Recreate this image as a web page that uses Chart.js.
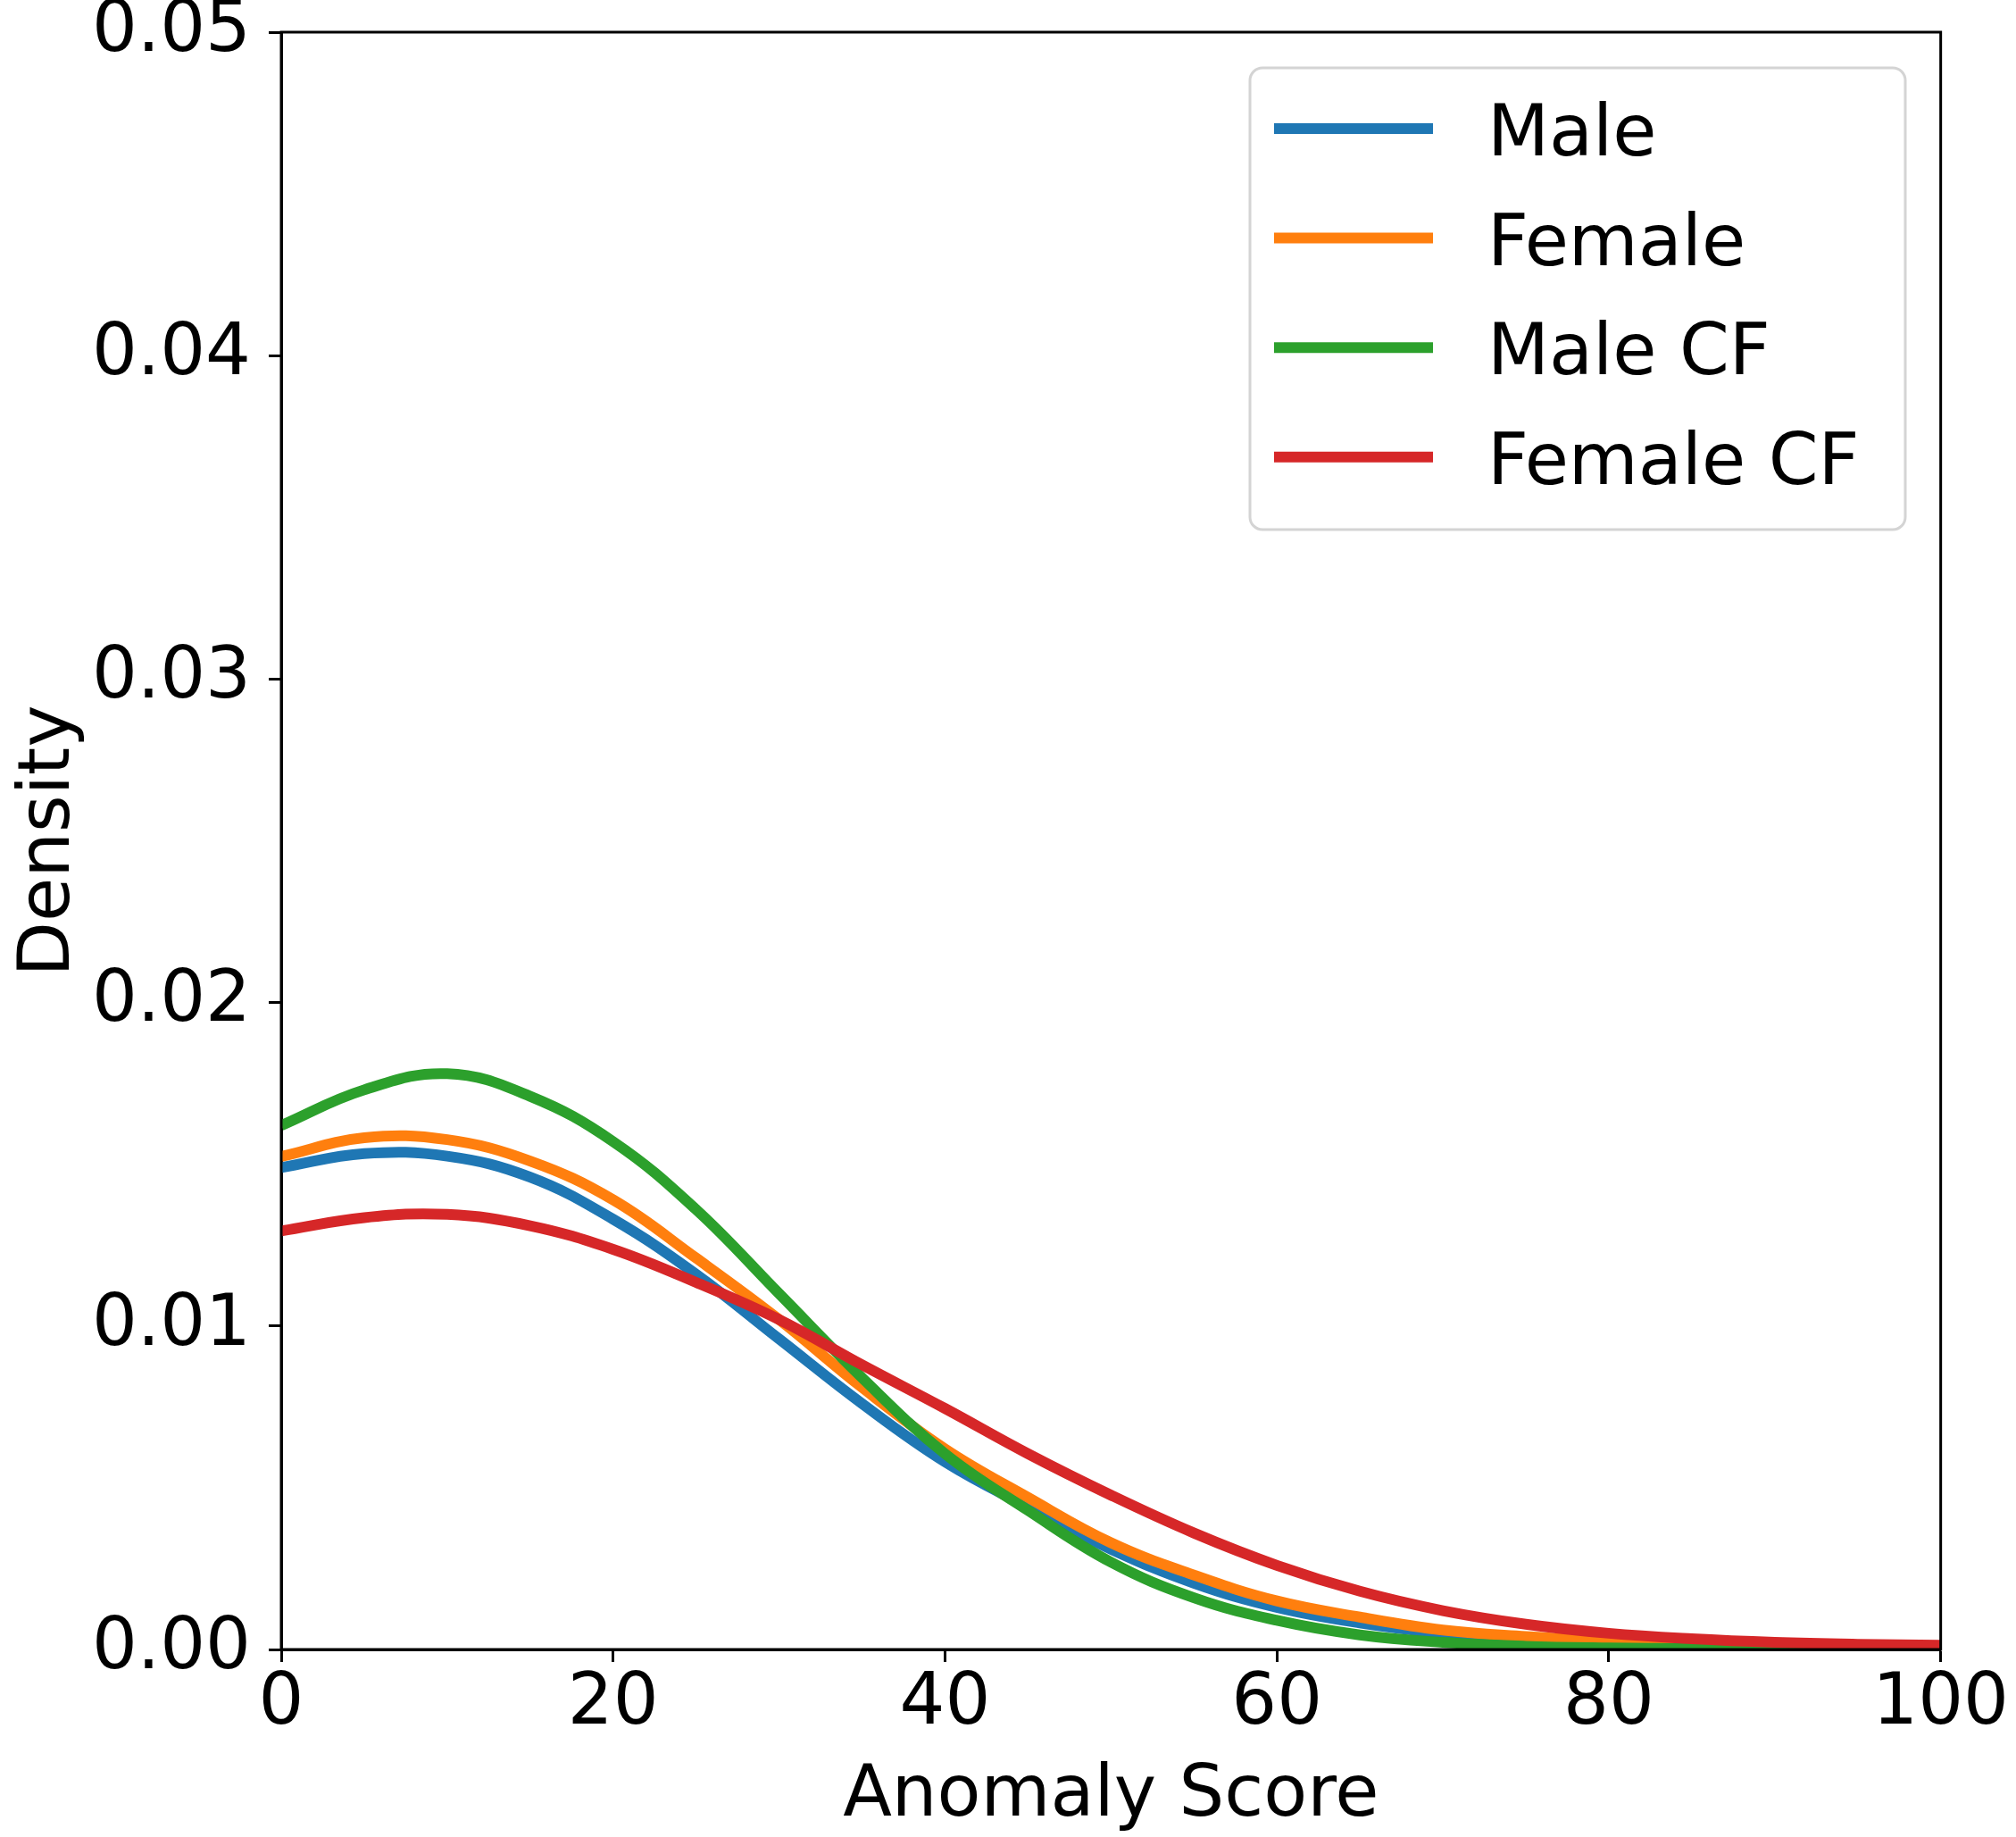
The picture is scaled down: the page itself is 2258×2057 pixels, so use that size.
<!DOCTYPE html>
<html>
<head>
<meta charset="utf-8">
<script src="https://cdn.jsdelivr.net/npm/chart.js@4/dist/chart.umd.min.js"></script>
<style>
  body { margin: 0; background: #fff; }
  canvas { display: block; }
</style>
</head>
<body>
<canvas id="myChart" width="2258" height="2057"></canvas>
<script>
// anomaly score grid (x) and density
const scores = [0, 5, 10, 15, 20, 25, 30, 35, 40, 45, 50, 55, 60, 65, 70, 75, 80, 85, 90, 95, 100];
const male = [0.0149, 0.01533, 0.01525, 0.0146, 0.0133, 0.0116, 0.0096, 0.0076, 0.0058, 0.0044, 0.0031, 0.00205, 0.0013, 0.00082, 0.0005, 0.00031, 0.00019, 0.0001, 0.00005, 0.00002, 0.00001];
const female = [0.01524, 0.01582, 0.01576, 0.0151, 0.0139, 0.0121, 0.0102, 0.0081, 0.0062, 0.0047, 0.0033, 0.0023, 0.0015, 0.001, 0.0006, 0.0004, 0.00026, 0.00015, 0.00008, 0.00004, 0.00002];
const maleCF = [0.0162, 0.0173, 0.0178, 0.0171, 0.0157, 0.0136, 0.011, 0.0084, 0.00605, 0.0043, 0.0027, 0.0016, 0.0009, 0.00045, 0.00022, 0.0001, 0.00005, 0.00003, 0.00002, 0.00001, 0.00001];
const femaleCF = [0.01294, 0.01335, 0.01345, 0.0131, 0.01237, 0.01135, 0.0102, 0.0088, 0.00745, 0.00605, 0.00477, 0.0036, 0.0026, 0.0018, 0.0012, 0.00078, 0.0005, 0.00033, 0.00022, 0.00016, 0.00013];

const labels = ["Male", "Female", "Male CF", "Female CF"];
const colors = ["#1f77b4", "#ff7f0e", "#2ca02c", "#d62728"];
const series = [male, female, maleCF, femaleCF];

const FONT = "'DejaVu Sans', sans-serif";

// legend box in the upper right, drawn like matplotlib's
const boxLegend = {
  id: "boxLegend",
  afterDraw(chart) {
    const c = chart.ctx;
    const area = chart.chartArea;
    // frame around the plot
    c.save();
    c.strokeStyle = "#000";
    c.lineWidth = 3;
    c.strokeRect(area.left, area.top, area.right - area.left, area.bottom - area.top);

    const x0 = 1400, y0 = 76, w = 734, h = 517;
    c.beginPath();
    c.roundRect(x0, y0, w, h, 14);
    c.fillStyle = "rgba(255,255,255,0.8)";
    c.fill();
    c.strokeStyle = "#d4d4d4";
    c.lineWidth = 3;
    c.stroke();

    c.font = "80px " + FONT;
    c.textBaseline = "alphabetic";
    chart.data.datasets.forEach((ds, i) => {
      const y = 144 + i * 122.6;
      c.strokeStyle = ds.borderColor;
      c.lineWidth = 12;
      c.beginPath();
      c.moveTo(1427, y);
      c.lineTo(1605, y);
      c.stroke();
      c.fillStyle = "#000";
      c.fillText(ds.label, 1666, y + 30);
    });
    c.restore();
  }
};

var ctx = document.getElementById("myChart").getContext("2d");
var myChart = new Chart(ctx, {
  type: "line",
  data: {
    datasets: series.map((vals, i) => ({
      label: labels[i],
      data: scores.map((s, j) => ({ x: s, y: vals[j] })),
      borderColor: colors[i],
      backgroundColor: colors[i],
      borderWidth: 12,
      pointRadius: 0,
      fill: false,
      tension: 0.4,
      order: 3 - i,
    })),
  },
  options: {
    responsive: false,
    animation: false,
    devicePixelRatio: 1,
    layout: { padding: { top: 20, right: 78, left: 0, bottom: 0 } },
    plugins: { legend: { display: false }, tooltip: { enabled: false } },
    scales: {
      x: {
        type: "linear",
        min: 0,
        max: 100,
        afterFit(scale) { scale.height = 210; },
        ticks: {
          stepSize: 20,
          color: "#000",
          padding: 8,
          maxRotation: 0,
          font: { family: FONT, size: 80, lineHeight: 1.0 },
        },
        grid: { drawOnChartArea: false, drawTicks: true, tickLength: 14, tickWidth: 3, tickColor: "#000" },
        border: { display: true, color: "#000", width: 3 },
        title: {
          display: true,
          text: "Anomaly Score",
          color: "#000",
          font: { family: FONT, size: 80, lineHeight: 1.0 },
          padding: { top: 0, bottom: 5 },
        },
      },
      y: {
        type: "linear",
        min: 0,
        max: 0.05,
        afterFit(scale) { scale.width = 315; },
        ticks: {
          stepSize: 0.01,
          color: "#000",
          padding: 20,
          font: { family: FONT, size: 80, lineHeight: 0.4 },
          callback: (v) => v.toFixed(2),
        },
        grid: { drawOnChartArea: false, drawTicks: true, tickLength: 14, tickWidth: 3, tickColor: "#000" },
        border: { display: true, color: "#000", width: 3 },
        title: {
          display: true,
          text: "Density",
          color: "#000",
          font: { family: FONT, size: 80, lineHeight: 1.0 },
          padding: { top: 16, bottom: 0 },
        },
      },
    },
  },
  plugins: [boxLegend],
});
</script>
</body>
</html>
